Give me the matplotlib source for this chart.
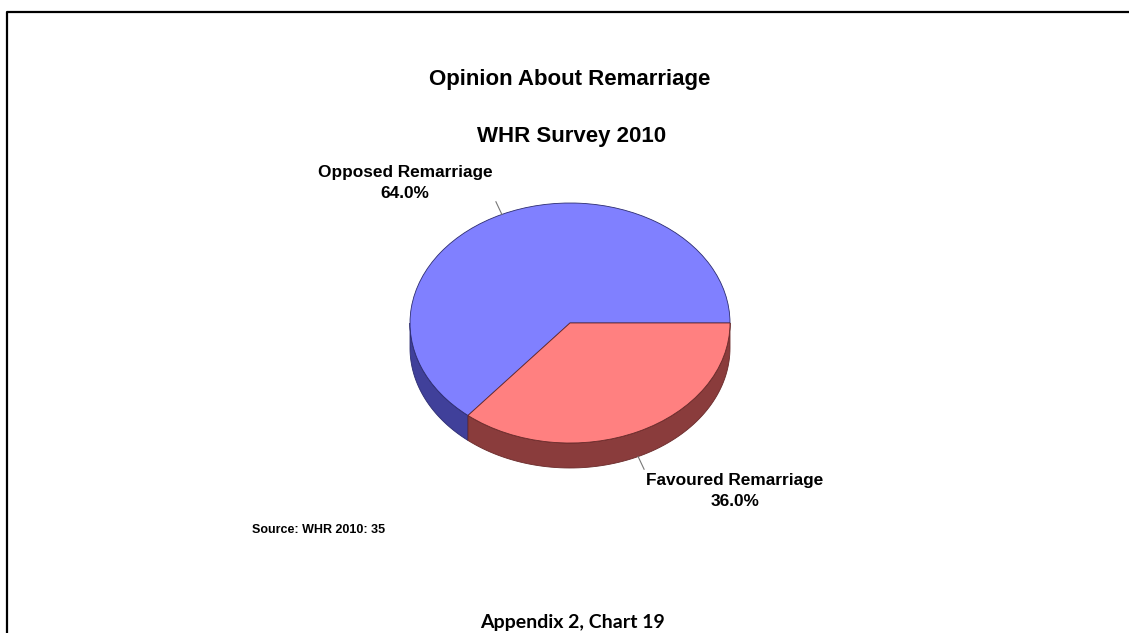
import numpy as np
import matplotlib.pyplot as plt
from matplotlib.patches import Wedge, Polygon
from matplotlib.transforms import Affine2D

title = 'Opinion About Remarriage'
subtitle = 'WHR Survey 2010'
categories = ['Opposed Remarriage', 'Favoured Remarriage']
values = [64.0, 36.0]
top_colors = ['#8080ff', '#ff8080']
side_colors = ['#40409a', '#8a3c3c']
edge_colors = ['#2c2c70', '#6a2a2a']
source = 'Source: WHR 2010: 35'
caption = 'Appendix 2, Chart 19'

# pie geometry in pixels
cx, cy = 570, 323
rx, ry = 160, 120
depth = 25

fig = plt.figure(figsize=(11.29, 6.33), dpi=100)
ax = fig.add_axes([0, 0, 1, 1])
ax.set_xlim(0, 1129)
ax.set_ylim(633, 0)
ax.axis('off')

# page frame
ax.plot([7, 7, 1129], [640, 12, 12], color='black', lw=1.6, solid_capstyle='butt')

font = 'Liberation Sans'
ax.text(cx, 85, title, ha='center', va='baseline', fontsize=16, fontweight='bold', family=font)
ax.text(cx + 2, 142, subtitle, ha='center', va='baseline', fontsize=16, fontweight='bold', family=font)

ell = Affine2D().scale(rx, -ry).translate(cx, cy) + ax.transData

# angles from values, counterclockwise from 3 o'clock
bounds = np.concatenate([[0], np.cumsum(values) / sum(values) * 360])

# side walls (only the front half is visible)
for i in range(len(values)):
    a1, a2 = max(bounds[i], 180), min(bounds[i + 1], 360)
    if a2 <= a1:
        continue
    t = np.radians(np.linspace(a1, a2, 80))
    xs = cx + rx * np.cos(t)
    ys = cy - ry * np.sin(t)
    pts = np.column_stack([np.concatenate([xs, xs[::-1]]),
                           np.concatenate([ys, ys[::-1] + depth])])
    ax.add_patch(Polygon(pts, closed=True, facecolor=side_colors[i],
                         edgecolor=edge_colors[i], lw=0.6))

# top faces
for i in range(len(values)):
    ax.add_patch(Wedge((0, 0), 1, bounds[i], bounds[i + 1], transform=ell,
                       facecolor=top_colors[i], edgecolor=edge_colors[i], lw=0.6))

# labels with leader lines
label_pos = [(405, 177), (735, 485)]
for i in range(len(values)):
    mid = np.radians((bounds[i] + bounds[i + 1]) / 2)
    x0 = cx + rx * np.cos(mid)
    y0 = cy - ry * np.sin(mid) + (depth if np.sin(mid) < 0 else 0)
    x1 = cx + (rx + 14) * np.cos(mid)
    y1 = cy - (ry + 14) * np.sin(mid) + (depth if np.sin(mid) < 0 else 0)
    ax.plot([x0, x1], [y0, y1], color='#777777', lw=0.8)
    lx, ly = label_pos[i]
    ax.text(lx, ly, categories[i], ha='center', va='baseline', fontsize=12.4,
            fontweight='bold', family=font)
    ax.text(lx, ly + 21, f'{values[i]:.1f}%', ha='center', va='baseline', fontsize=12.4,
            fontweight='bold', family=font)

ax.text(252, 533, source, ha='left', va='baseline', fontsize=9, fontweight='bold', family=font)
ax.text(572, 628, caption, ha='center', va='baseline', fontsize=14, fontweight='bold', family='Lato')

fig.savefig('out.png', dpi=100)
